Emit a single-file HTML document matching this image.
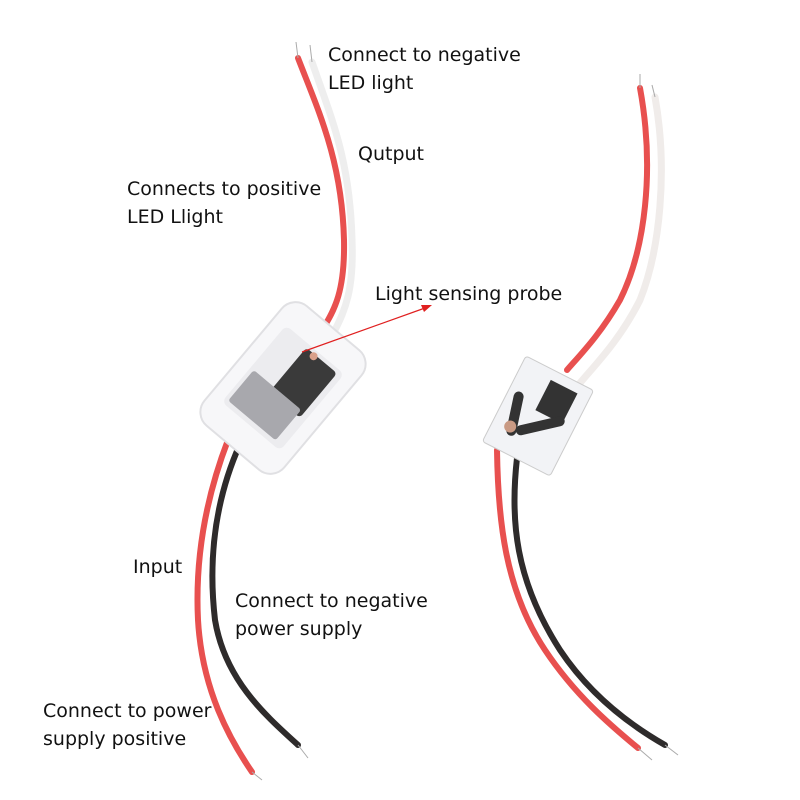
<!DOCTYPE html>
<html><head><style>
body{margin:0;width:800px;height:800px;background:#fff;overflow:hidden}
svg{position:absolute;left:0;top:0}
text{font-family:"DejaVu Sans","Liberation Sans",sans-serif;font-size:19px;fill:#111}
</style></head><body>
<svg width="800" height="800" viewBox="0 0 800 800">
<g fill="none" stroke-linecap="round">
<path d="M312,62 C332,120 350,160 352,240 C354,290 345,310 335,330" stroke="#eee" stroke-width="7"/>
<path d="M298,58 C318,110 342,160 344,240 C345,290 335,310 322,330" stroke="#e8504f" stroke-width="6"/>
<path d="M228,440 C205,500 195,560 198,620 C202,690 230,740 252,772" stroke="#e8504f" stroke-width="6"/>
<path d="M240,444 C215,500 208,560 215,620 C225,680 265,715 298,745" stroke="#2e2b2b" stroke-width="6"/>
<path d="M655,97 C668,170 660,250 640,300 C620,340 595,365 580,383" stroke="#f0ecea" stroke-width="7"/>
<path d="M640,88 C655,170 645,250 620,300 C600,335 580,355 567,370" stroke="#e8504f" stroke-width="6"/>
<path d="M517,458 C510,520 515,580 560,650 C590,695 630,725 665,745" stroke="#2e2b2b" stroke-width="6"/>
<path d="M497,450 C498,520 505,590 545,650 C575,695 610,725 638,748" stroke="#e8504f" stroke-width="6"/>
</g>
<g stroke="#aaa" stroke-width="1">
<line x1="298" y1="58" x2="296" y2="42"/><line x1="312" y1="62" x2="310" y2="45"/>
<line x1="640" y1="88" x2="640" y2="74"/><line x1="655" y1="97" x2="652" y2="85"/>
<line x1="252" y1="772" x2="262" y2="780"/><line x1="298" y1="745" x2="308" y2="758"/>
<line x1="638" y1="748" x2="652" y2="760"/><line x1="665" y1="745" x2="678" y2="755"/>
</g>
<g transform="translate(283,388) rotate(40)">
<rect x="-52" y="-78" width="104" height="156" rx="18" fill="#f7f7f9" stroke="#e0e0e3" stroke-width="2"/>
<rect x="-38" y="-50" width="76" height="100" rx="6" fill="#ececef"/>
<rect x="-8" y="-46" width="40" height="58" rx="4" fill="#3a3a3a"/>
<rect x="-34" y="5" width="62" height="40" rx="3" fill="#a8a8ad"/>
<circle cx="3" cy="-44" r="4" fill="#d9a08a"/>
</g>
<g transform="translate(538,416) rotate(27)">
<rect x="-38" y="-48" width="76" height="96" rx="3" fill="#f2f3f6" stroke="#ccc"/>
<rect x="-5" y="-38" width="30" height="34" fill="#333"/>
<rect x="-28" y="-20" width="10" height="45" rx="5" fill="#333" transform="rotate(-15)"/>
<rect x="-25" y="5" width="50" height="10" rx="5" fill="#333" transform="rotate(-40)"/>
<circle cx="-20" cy="22" r="6" fill="#c99a84"/>
</g>
<line x1="302" y1="352" x2="425" y2="308" stroke="#e02020" stroke-width="1.2"/>
<polygon points="432,305 421,305 424,312" fill="#e02020"/>
<text x="328" y="61">Connect to negative</text>
<text x="328" y="89">LED light</text>
<text x="358" y="160">Qutput</text>
<text x="127" y="195">Connects to positive</text>
<text x="127" y="223">LED Llight</text>
<text x="375" y="300">Light sensing probe</text>
<text x="133" y="573">Input</text>
<text x="235" y="607">Connect to negative</text>
<text x="235" y="635">power supply</text>
<text x="43" y="717">Connect to power</text>
<text x="43" y="745">supply positive</text>
</svg>
</body></html>
